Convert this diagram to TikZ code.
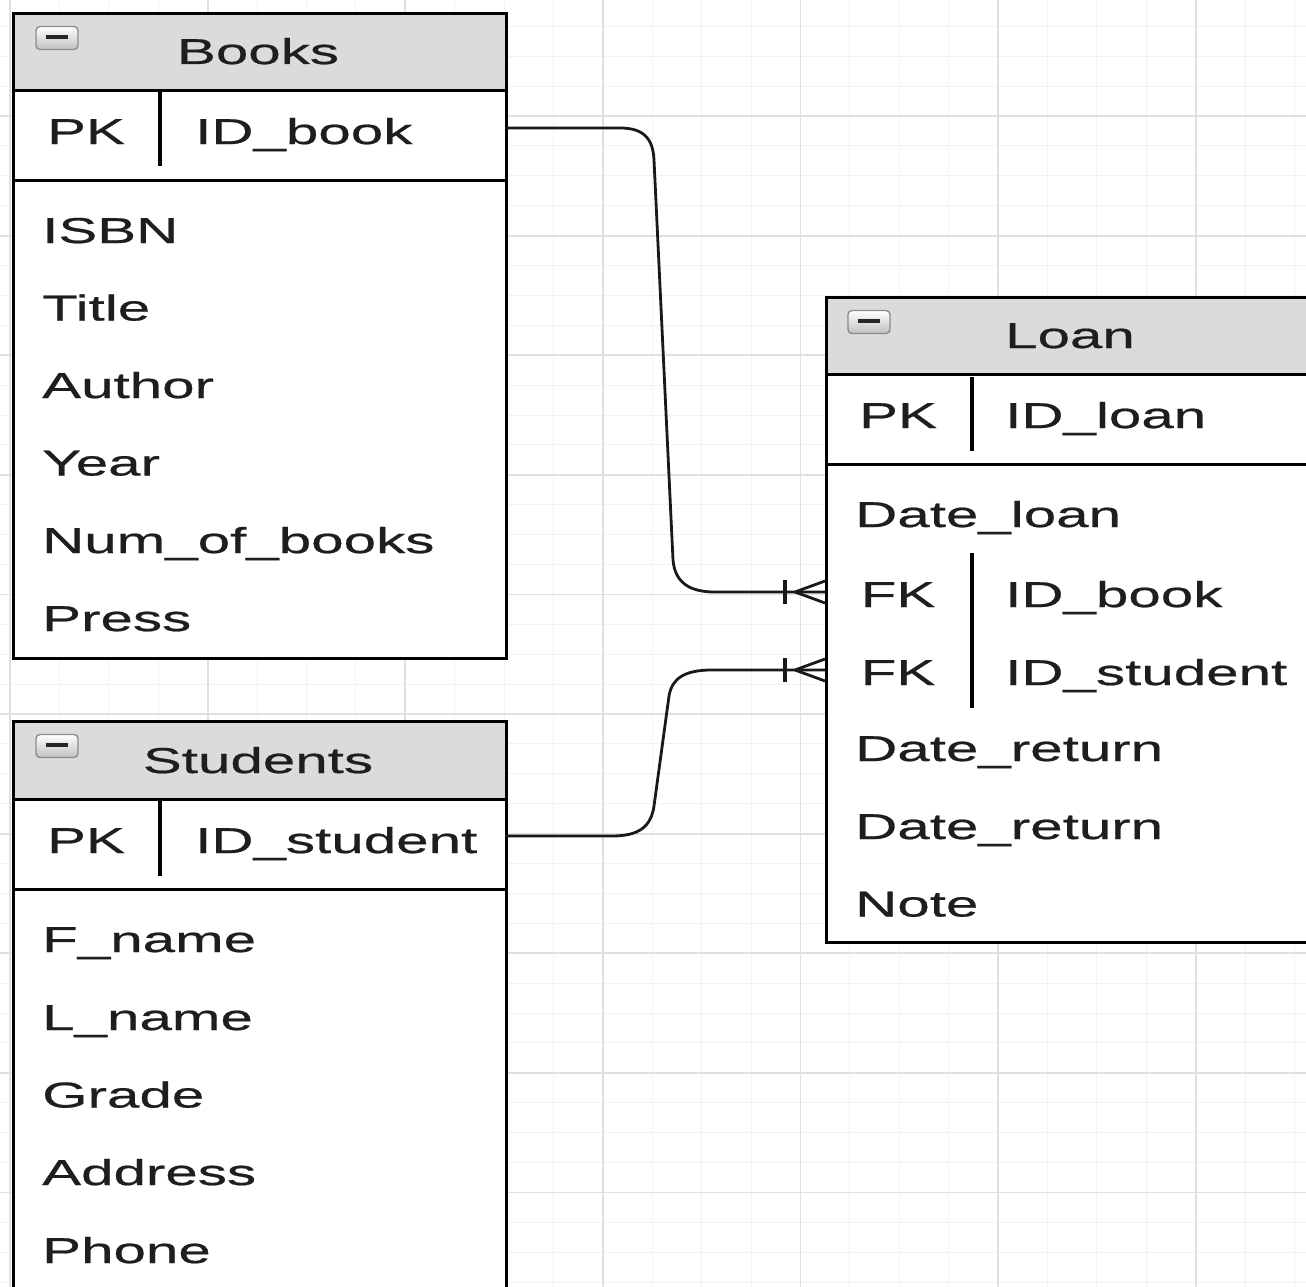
\documentclass[tikz,border=0pt]{standalone}
\usepackage{fontspec}
\newfontfamily\erfont[FakeStretch=1.62,FakeBold=0.6]{Liberation Sans}
\definecolor{hdr}{HTML}{DBDBDB}
\definecolor{txt}{HTML}{1E1E1E}
\definecolor{gmaj}{HTML}{E0E0E0}
\definecolor{gmin}{HTML}{F2F2F2}
\begin{document}
\begin{tikzpicture}[x=1pt,y=-1pt,
  box/.style={draw=black,line width=3.4pt,fill=white,inner sep=0pt,anchor=north west},
  hdrbox/.style={box,fill=hdr},
  keybox/.style={draw=black,line width=3.4pt,inner sep=0pt,anchor=north west},
  lbl/.style={inner sep=0pt,text height=26pt,text depth=0pt,text=txt,font=\erfont\fontsize{36}{40}\selectfont,anchor=west},
  ttl/.style={lbl,anchor=center},
  sepline/.style={line width=3.2pt,black},
  conn/.style={line width=2.8pt,black!90},
  icon/.style={draw=black!45,line width=1.4pt,rounded corners=4pt,top color=white,bottom color=black!25,
    minimum width=42pt,minimum height=23pt,inner sep=0pt,
    path picture={\draw[line width=3.2pt,black!85] ([xshift=-11pt,yshift=1pt]path picture bounding box.center) -- ([xshift=11pt,yshift=1pt]path picture bounding box.center);}}
]
\useasboundingbox (0,0) rectangle (1306,1287);
\clip (0,0) rectangle (1306,1287);
\fill[white] (0,0) rectangle (1306,1287);
% grid
\foreach \k in {0,...,26} \draw[gmin,line width=1pt] ({10+49.4*\k},0) -- ({10+49.4*\k},1287);
\foreach \k in {0,...,44} \draw[gmin,line width=1pt] (0,{-3.6+29.9*\k}) -- (1306,{-3.6+29.9*\k});
\foreach \k in {0,...,6} \draw[gmaj,line width=1.8pt] ({10+197.6*\k},0) -- ({10+197.6*\k},1287);
\foreach \k in {0,...,11} \draw[gmaj,line width=1.8pt] (0,{-3.6+119.6*\k}) -- (1306,{-3.6+119.6*\k});

% ---------------- Books
\node[box,minimum width=493pt,minimum height=645pt] (books) at (12,12) {};
\node[hdrbox,minimum width=493pt,minimum height=77pt] (booksHead) at (12,12) {};
\node[keybox,minimum width=493pt,minimum height=90pt] (booksKey) at (12,89) {};
\node[icon] (booksIcon) at (57,38) {};
\node[ttl] (booksTitle) at (258,51) {Books};
\node[lbl,anchor=center] (booksPK) at (86,131) {PK};
\draw[sepline] (160,92) -- (160,166);
\node[lbl] (booksID) at (195,131) {ID\_book};
\node[lbl] (bISBN) at (42,230) {ISBN};
\node[lbl] (bTitle) at (42,307.5) {Title};
\node[lbl] (bAuthor) at (42,385) {Author};
\node[lbl] (bYear) at (42,462.5) {Year};
\node[lbl] (bNum) at (42,540) {Num\_of\_books};
\node[lbl] (bPress) at (42,618) {Press};

% ---------------- Students
\node[box,minimum width=493pt,minimum height=600pt] (students) at (12,720) {};
\node[hdrbox,minimum width=493pt,minimum height=78pt] (studentsHead) at (12,720) {};
\node[keybox,minimum width=493pt,minimum height=90pt] (studentsKey) at (12,798) {};
\node[icon] (studentsIcon) at (57,746) {};
\node[ttl] (studentsTitle) at (258,760) {Students};
\node[lbl,anchor=center] (studentsPK) at (86,840) {PK};
\draw[sepline] (160,801) -- (160,876);
\node[lbl] (studentsID) at (195,840) {ID\_student};
\node[lbl] (sF) at (42,939) {F\_name};
\node[lbl] (sL) at (42,1017) {L\_name};
\node[lbl] (sG) at (42,1094.5) {Grade};
\node[lbl] (sA) at (42,1172) {Address};
\node[lbl] (sP) at (42,1250) {Phone};

% ---------------- Loan
\node[box,minimum width=490pt,minimum height=645pt] (loan) at (825,296) {};
\node[hdrbox,minimum width=490pt,minimum height=77pt] (loanHead) at (825,296) {};
\node[keybox,minimum width=490pt,minimum height=90pt] (loanKey) at (825,373) {};
\node[icon] (loanIcon) at (869,322) {};
\node[ttl] (loanTitle) at (1070,335) {Loan};
\node[lbl,anchor=center] (loanPK) at (898,415) {PK};
\draw[sepline] (972,377) -- (972,451);
\node[lbl] (loanID) at (1005,415) {ID\_loan};
\node[lbl] (lDate) at (855,514) {Date\_loan};
\node[lbl,anchor=center] (lFK1) at (898,594) {FK};
\node[lbl] (lBook) at (1005,594) {ID\_book};
\node[lbl,anchor=center] (lFK2) at (898,672) {FK};
\node[lbl] (lStud) at (1005,672) {ID\_student};
\draw[sepline] (972,553) -- (972,708);
\node[lbl] (lRet1) at (855,748) {Date\_return};
\node[lbl] (lRet2) at (855,826) {Date\_return};
\node[lbl] (lNote) at (855,903.5) {Note};

% ---------------- connectors
\coordinate (bookOut) at (505,128);
\coordinate (loanIn1) at (825,592);
\coordinate (studOut) at (505,836);
\coordinate (loanIn2) at (825,670);

\draw[conn] (bookOut) -- (620,128) .. controls (643,128) and (653,138) .. (654,160)
  -- (673,560) .. controls (675,583) and (690,592) .. (715,592) -- (loanIn1);
\draw[conn,line width=3.2pt] (785,580) -- (785,604);
\draw[conn] (795,592) -- (825,581) (795,592) -- (825,603);

\draw[conn] (studOut) -- (612,836) .. controls (640,836) and (651,826) .. (654,806)
  -- (669,696) .. controls (672,678) and (685,670) .. (712,670) -- (loanIn2);
\draw[conn,line width=3.2pt] (785,658) -- (785,682);
\draw[conn] (795,670) -- (825,659) (795,670) -- (825,681);
\end{tikzpicture}
\end{document}
